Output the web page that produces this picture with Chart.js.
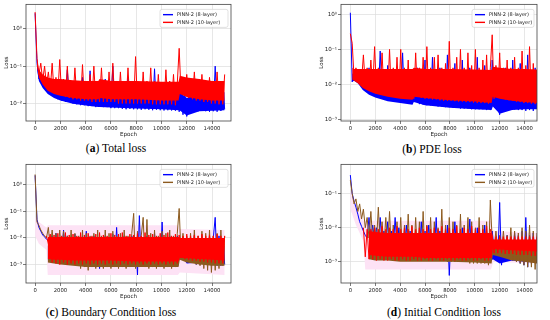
<!DOCTYPE html>
<html>
<head>
<meta charset="utf-8">
<script src="https://cdn.jsdelivr.net/npm/chart.js@4.4.0/dist/chart.umd.min.js"></script>
<style>
body { margin: 0; width: 550px; height: 320px; background: #fff; position: relative; overflow: hidden; }
canvas { position: absolute; }
.cap { position: absolute; font-family: "Liberation Serif"; font-size: 11.5px; color: #000; white-space: nowrap; transform: translate(-50%, -50%); }
</style>
</head>
<body>
<canvas id="chartA" width="240" height="142" style="left:0px;top:0px"></canvas>
<canvas id="chartB" width="230" height="142" style="left:315px;top:0px"></canvas>
<canvas id="chartC" width="240" height="142" style="left:0px;top:160px"></canvas>
<canvas id="chartD" width="230" height="142" style="left:315px;top:160px"></canvas>
<div class="cap" style="left:116px;top:148px">(<b>a</b>) Total loss</div>
<div class="cap" style="left:432px;top:149px">(<b>b</b>) PDE loss</div>
<div class="cap" style="left:111px;top:312px">(<b>c</b>) Boundary Condition loss</div>
<div class="cap" style="left:444px;top:312px">(<b>d</b>) Initial Condition loss</div>
<script>
Chart.defaults.font.family = "DejaVu Sans";
Chart.defaults.color = "#222";

var seriesNames = ["PINN-2 (8-layer)", "PINN-2 (10-layer)"];
var xTicks = [0, 2000, 4000, 6000, 8000, 10000, 12000, 14000];

var epochs = [0,150,300,450,600,750,900,1050,1200,1350,1500,1650,1800,1950,2100,2250,2400,2550,2700,2850,
  3000,3150,3300,3450,3600,3750,3900,4050,4200,4350,4500,4650,4800,4950,5100,5250,5400,5550,5700,5850,
  6000,6150,6300,6450,6600,6750,6900,7050,7200,7350,7500,7650,7800,7950,8100,8250,8400,8550,8700,8850,
  9000,9150,9300,9450,9600,9750,9900,10050,10200,10350,10500,10650,10800,10950,11100,11250,11400,11550,11700,11850,
  12000,12150,12300,12450,12600,12750,12900,13050,13200,13350,13500,13650,13800,13950,14100,14250,14400,14550,14700,14850,15000];

// epochs where the dense noise band edges were read
var bandEpochs = [150, 300, 600, 1000, 1500, 2000, 3000, 4000, 5000, 5100, 6000, 8000, 10000, 11350, 11450, 12000, 13000, 14000, 15000];

// (a) total loss
var totalLoss8 = [2.6,0.12,0.045,0.06,0.03,0.045,0.022,0.04,0.018,0.035,
  0.015,0.03,0.013,0.045,0.012,0.025,0.011,0.08,0.011,0.022,
  0.01,0.03,0.0095,0.02,0.009,0.05,0.009,0.022,0.0085,0.075,
  0.0085,0.02,0.008,0.028,0.0085,0.02,0.008,0.045,0.008,0.02,
  0.0075,0.1,0.0075,0.02,0.0075,0.03,0.0072,0.02,0.007,0.05,
  0.0072,0.02,0.007,0.025,0.007,0.018,0.0068,0.04,0.007,0.02,
  0.0068,0.03,0.0066,0.085,0.0068,0.02,0.0066,0.025,0.0065,0.02,
  0.0066,0.035,0.0065,0.02,0.0064,0.03,0.006,0.025,0.005,0.016,
  0.0045,0.014,0.0055,0.018,0.006,0.03,0.0062,0.02,0.0063,0.04,
  0.0062,0.02,0.006,0.025,0.0062,0.1,0.006,0.02,0.0063,0.03,0.007];
var totalLoss10 = [2.8,0.16,0.06,0.12,0.04,0.1,0.03,0.07,0.024,0.12,
  0.02,0.05,0.018,0.15,0.016,0.045,0.015,0.1,0.014,0.04,
  0.013,0.09,0.013,0.04,0.012,0.11,0.012,0.035,0.012,0.06,
  0.011,0.1,0.011,0.04,0.011,0.09,0.011,0.035,0.011,0.07,
  0.011,0.12,0.011,0.04,0.01,0.07,0.01,0.035,0.01,0.09,
  0.01,0.04,0.01,0.18,0.01,0.035,0.01,0.07,0.01,0.04,
  0.01,0.09,0.0095,0.04,0.0095,0.06,0.0095,0.035,0.0095,0.08,
  0.0095,0.04,0.0095,0.06,0.009,0.035,0.3,0.018,0.05,0.016,
  0.06,0.014,0.045,0.013,0.07,0.012,0.04,0.012,0.06,0.011,
  0.035,0.011,0.05,0.01,0.04,0.01,0.07,0.0095,0.035,0.0095,0.06];
var totalBand8Low = [0.09, 0.04, 0.026, 0.018, 0.014, 0.012, 0.0098, 0.0088, 0.008, 0.008, 0.0078, 0.0073, 0.007, 0.0066, 0.0065, 0.0048, 0.0062, 0.0064, 0.0066];
var totalBand8High = [0.12, 0.06, 0.04, 0.03, 0.025, 0.022, 0.02, 0.02, 0.02, 0.025, 0.02, 0.02, 0.02, 0.02, 0.02, 0.014, 0.02, 0.02, 0.02];
var totalBand10Low = [0.1, 0.05, 0.032, 0.022, 0.018, 0.016, 0.014, 0.013, 0.013, 0.014, 0.013, 0.013, 0.012, 0.012, 0.018, 0.015, 0.013, 0.012, 0.012];
var totalBand10High = [0.16, 0.08, 0.06, 0.05, 0.045, 0.045, 0.042, 0.04, 0.04, 0.045, 0.04, 0.04, 0.038, 0.038, 0.055, 0.05, 0.045, 0.04, 0.04];

// (b) PDE loss
var pdeLoss8 = [1.1,0.012,0.022,0.015,0.021,0.014,0.02,0.012,0.018,0.01,
  0.03,0.0075,0.016,0.0065,0.02,0.0055,0.09,0.005,0.018,0.0045,
  0.035,0.004,0.016,0.0038,0.025,0.0035,0.015,0.0034,0.08,0.0032,
  0.02,0.003,0.014,0.003,0.01,0.006,0.03,0.0028,0.02,0.0027,
  0.05,0.0026,0.016,0.0026,0.06,0.0025,0.018,0.0024,0.03,0.0024,
  0.015,0.0023,0.07,0.0023,0.02,0.0022,0.04,0.0022,0.016,0.0021,
  0.05,0.0021,0.018,0.0021,0.03,0.002,0.015,0.002,0.06,0.002,
  0.02,0.002,0.035,0.0019,0.015,0.0019,0.05,0.009,0.004,0.0025,
  0.0014,0.012,0.0018,0.03,0.0019,0.015,0.002,0.05,0.002,0.018,
  0.0019,0.04,0.0019,0.016,0.0018,0.07,0.0019,0.02,0.0018,0.03,0.0022];
var pdeLoss10 = [0.28,0.15,0.016,0.03,0.018,0.025,0.012,0.07,0.01,0.03,
  0.008,0.05,0.0075,0.12,0.0065,0.03,0.006,0.08,0.0055,0.025,
  0.005,0.1,0.005,0.03,0.0048,0.06,0.0045,0.1,0.0045,0.03,
  0.0042,0.05,0.004,0.025,0.004,0.08,0.0045,0.03,0.0042,0.06,
  0.004,0.12,0.004,0.03,0.0038,0.06,0.0038,0.07,0.0036,0.03,
  0.0035,0.04,0.0035,0.17,0.0035,0.03,0.0034,0.06,0.0033,0.1,
  0.0033,0.03,0.0032,0.08,0.0032,0.035,0.0031,0.1,0.003,0.03,
  0.003,0.05,0.003,0.07,0.0029,0.03,0.26,0.004,0.035,0.0042,
  0.08,0.004,0.03,0.0038,0.05,0.0036,0.03,0.0035,0.06,0.0033,
  0.03,0.0032,0.09,0.003,0.035,0.003,0.12,0.0029,0.04,0.0028,0.025];
var pdeBand8Low = [0.012, 0.013, 0.011, 0.007, 0.0052, 0.0043, 0.0034, 0.003, 0.0027, 0.0032, 0.0026, 0.0022, 0.002, 0.0019, 0.0024, 0.0015, 0.0019, 0.002, 0.002];
var pdeBand8High = [0.02, 0.022, 0.02, 0.016, 0.014, 0.012, 0.012, 0.012, 0.012, 0.018, 0.012, 0.012, 0.012, 0.011, 0.014, 0.008, 0.012, 0.012, 0.012];
var pdeBand10Low = [0.014, 0.013, 0.011, 0.008, 0.0065, 0.0055, 0.0045, 0.004, 0.0037, 0.0045, 0.0042, 0.0036, 0.0033, 0.003, 0.0045, 0.004, 0.0035, 0.0032, 0.003];
var pdeBand10High = [0.03, 0.028, 0.028, 0.028, 0.028, 0.028, 0.028, 0.028, 0.028, 0.03, 0.028, 0.028, 0.027, 0.026, 0.032, 0.03, 0.028, 0.028, 0.027];

// (c) boundary condition loss
var bcLoss8 = [2.3,0.05,0.025,0.018,0.013,0.011,0.009,0.008,0.004,0.012,
  0.003,0.015,0.0025,0.01,0.0022,0.02,0.002,0.012,0.0018,0.01,
  0.0017,0.014,0.0015,0.01,0.0015,0.012,0.0014,0.018,0.0013,0.01,
  0.0013,0.012,0.0012,0.01,0.0007,0.006,0.0012,0.012,0.0012,0.01,
  0.0011,0.014,0.0011,0.025,0.0011,0.01,0.001,0.012,0.001,0.01,
  0.001,0.012,0.0009,0.01,0.0004,0.07,0.0009,0.01,0.0009,0.012,
  0.0009,0.01,0.0009,0.015,0.0009,0.01,0.0009,0.04,0.0009,0.01,
  0.0009,0.012,0.0009,0.01,0.0009,0.012,0.008,0.0035,0.006,0.002,
  0.004,0.0015,0.003,0.0012,0.012,0.001,0.01,0.001,0.012,0.001,
  0.01,0.001,0.012,0.0009,0.01,0.06,0.0009,0.012,0.0009,0.01,0.001];
var bcLoss10 = [2.5,0.04,0.03,0.02,0.015,0.012,0.01,0.025,0.004,0.02,
  0.003,0.015,0.0025,0.02,0.0022,0.018,0.002,0.012,0.0018,0.02,
  0.0016,0.015,0.0015,0.012,0.0007,0.02,0.0008,0.015,0.0006,0.012,
  0.0008,0.015,0.0007,0.02,0.0008,0.012,0.0007,0.02,0.0008,0.015,
  0.0007,0.018,0.0008,0.012,0.0007,0.015,0.0008,0.02,0.0007,0.012,
  0.0008,0.015,0.085,0.0007,0.018,0.0008,0.012,0.06,0.0008,0.05,
  0.0007,0.015,0.0008,0.02,0.0007,0.012,0.0008,0.018,0.0007,0.015,
  0.0008,0.02,0.0007,0.012,0.0008,0.015,0.13,0.002,0.015,0.002,
  0.012,0.0015,0.015,0.0012,0.02,0.001,0.012,0.0009,0.018,0.0007,
  0.015,0.0006,0.02,0.0005,0.012,0.0006,0.015,0.0007,0.02,0.0009,0.012];
var bcRed = [null,null,null,null,null,null,0.012,0.006,0.014,0.0012,
  0.013,0.0011,0.015,0.001,0.012,0.0012,0.016,0.001,0.013,0.0011,
  0.014,0.001,0.012,0.0011,0.016,0.001,0.013,0.0011,0.015,0.001,
  0.012,0.0011,0.014,0.001,0.016,0.0011,0.013,0.001,0.012,0.0011,
  0.015,0.001,0.013,0.0011,0.014,0.001,0.016,0.0011,0.012,0.001,
  0.014,0.0011,0.013,0.001,0.015,0.0011,0.012,0.001,0.016,0.0011,
  0.013,0.001,0.014,0.0011,0.012,0.001,0.015,0.0011,0.013,0.001,
  0.016,0.0011,0.012,0.001,0.014,0.0011,0.013,0.0018,0.012,0.0016,
  0.014,0.0015,0.012,0.0014,0.013,0.0014,0.012,0.0013,0.014,0.0013,
  0.012,0.0012,0.013,0.0012,0.012,0.0011,0.014,0.0011,0.012,0.0011,0.012];
var bcRedLow = [null, null, null, 0.0016, 0.0015, 0.0015, 0.0014, 0.0014, 0.0014, 0.0014, 0.0014, 0.0013, 0.0013, 0.0013, 0.0018, 0.0017, 0.0016, 0.0015, 0.0014];
var bcRedHigh = [null, null, null, 0.011, 0.011, 0.011, 0.011, 0.011, 0.011, 0.011, 0.011, 0.011, 0.011, 0.011, 0.01, 0.01, 0.01, 0.01, 0.01];
var bcBand10Low = [null, null, null, 0.0012, 0.0011, 0.001, 0.0009, 0.0008, 0.0008, 0.0008, 0.0008, 0.0008, 0.0008, 0.0008, 0.0015, 0.0012, 0.001, 0.0009, 0.0009];
var bcBand10High = [null, null, null, 0.006, 0.006, 0.006, 0.006, 0.006, 0.006, 0.006, 0.006, 0.006, 0.006, 0.006, 0.006, 0.006, 0.006, 0.006, 0.006];
var bcBand8Low = [null, null, null, 0.0015, 0.0013, 0.0012, 0.0011, 0.001, 0.001, 0.0009, 0.0009, 0.0009, 0.0009, 0.0009, 0.0025, 0.0011, 0.0012, 0.0012, 0.0012];
var bcBand8High = [null, null, null, 0.005, 0.005, 0.005, 0.005, 0.005, 0.005, 0.005, 0.005, 0.005, 0.005, 0.005, 0.006, 0.004, 0.005, 0.005, 0.005];
var bcShadeEpochs = [0, 300, 900, 1000, 11300, 11450, 15000];
var bcShadeHigh = [0.06, 0.04, 0.025, 0.03, 0.03, 0.022, 0.02];
var bcShadeLow = [0.012, 0.006, 0.0035, 0.0004, 0.0004, 0.0005, 0.0004];

// (d) initial condition loss
var icLoss8 = [0.35,0.1,0.06,0.04,0.025,0.015,0.011,0.008,0.006,0.005,
  0.02,0.0045,0.012,0.004,0.01,0.0035,0.02,0.003,0.008,0.0028,
  0.015,0.0026,0.008,0.0025,0.02,0.0024,0.01,0.0023,0.007,0.0022,
  0.012,0.0022,0.008,0.0021,0.006,0.0012,0.007,0.0021,0.015,0.002,
  0.008,0.002,0.012,0.0019,0.007,0.0019,0.02,0.0012,0.008,0.0018,
  0.006,0.0018,0.012,0.0004,0.007,0.0017,0.015,0.0017,0.006,0.0016,
  0.01,0.0016,0.007,0.0015,0.018,0.0015,0.006,0.0014,0.01,0.0014,
  0.007,0.0014,0.012,0.0013,0.006,0.0012,0.008,0.0025,0.0015,0.001,
  0.055,0.0008,0.004,0.0012,0.006,0.0012,0.005,0.0011,0.007,0.001,
  0.006,0.0009,0.008,0.0008,0.02,0.0007,0.006,0.0009,0.007,0.001,0.005];
var icLoss10 = [0.25,0.1,0.05,0.07,0.03,0.05,0.018,0.035,0.01,0.02,
  0.005,0.03,0.004,0.012,0.0035,0.04,0.003,0.015,0.0028,0.02,
  0.0025,0.03,0.002,0.012,0.0018,0.015,0.0016,0.02,0.0015,0.012,
  0.0015,0.025,0.0014,0.012,0.0014,0.02,0.0013,0.015,0.0013,0.03,
  0.0012,0.012,0.0012,0.02,0.0012,0.015,0.0011,0.01,0.0011,0.035,
  0.0011,0.012,0.001,0.02,0.001,0.015,0.001,0.012,0.001,0.025,
  0.001,0.012,0.001,0.02,0.0009,0.015,0.0009,0.01,0.0009,0.02,
  0.0009,0.012,0.0009,0.015,0.0008,0.065,0.004,0.0025,0.008,0.0022,
  0.006,0.002,0.008,0.0018,0.006,0.0015,0.01,0.0012,0.008,0.001,
  0.007,0.0009,0.01,0.0008,0.008,0.0007,0.012,0.0007,0.008,0.0006,0.007];
var icRed = [null,null,null,null,null,null,null,0.01,0.0014,0.009,
  0.0012,0.009,0.0012,0.01,0.0011,0.009,0.0012,0.011,0.0011,0.009,
  0.0011,0.01,0.0012,0.009,0.0011,0.011,0.0011,0.009,0.0012,0.01,
  0.0011,0.009,0.0011,0.011,0.0012,0.009,0.0011,0.01,0.0011,0.009,
  0.0012,0.011,0.0011,0.009,0.0011,0.01,0.0012,0.009,0.0011,0.011,
  0.0011,0.009,0.0012,0.01,0.0011,0.009,0.0011,0.011,0.0012,0.009,
  0.0011,0.01,0.0011,0.009,0.0012,0.011,0.0011,0.009,0.0011,0.01,
  0.0012,0.009,0.0011,0.011,0.0011,0.009,0.006,0.0018,0.0055,0.0018,
  0.0055,0.0018,0.0055,0.0017,0.0055,0.0017,0.0055,0.0017,0.0055,0.0016,
  0.0055,0.0016,0.0055,0.0016,0.0055,0.0016,0.0055,0.0015,0.0055,0.0015,0.0055];
var icRedLow = [null, null, null, null, 0.0016, 0.0015, 0.0014, 0.0014, 0.0014, 0.0014, 0.0013, 0.0013, 0.0013, 0.0013, 0.0024, 0.0023, 0.0022, 0.0021, 0.002];
var icRedHigh = [null, null, null, null, 0.008, 0.0075, 0.007, 0.007, 0.007, 0.007, 0.007, 0.007, 0.007, 0.007, 0.0045, 0.0045, 0.0045, 0.0045, 0.0045];
var icBand10Low = [null, null, null, null, 0.0012, 0.0011, 0.0011, 0.001, 0.001, 0.001, 0.001, 0.001, 0.00095, 0.0009, 0.0016, 0.0014, 0.0011, 0.001, 0.0009];
var icBand10High = [null, null, null, null, 0.005, 0.005, 0.005, 0.005, 0.005, 0.005, 0.005, 0.005, 0.005, 0.005, 0.004, 0.004, 0.004, 0.004, 0.004];
var icBand8Low = [null, null, null, null, 0.0014, 0.0013, 0.0013, 0.0012, 0.0012, 0.0012, 0.0012, 0.0012, 0.0012, 0.0011, 0.0012, 0.0009, 0.0011, 0.001, 0.001];
var icBand8High = [null, null, null, null, 0.004, 0.004, 0.004, 0.004, 0.004, 0.004, 0.004, 0.004, 0.004, 0.004, 0.004, 0.003, 0.004, 0.004, 0.004];
var icShadeEpochs = [0, 150, 450, 750, 1050, 1200, 11300, 11500, 15000];
var icShadeHigh = [0.12, 0.1, 0.05, 0.03, 0.016, 0.016, 0.016, 0.008, 0.007];
var icShadeLow = [0.035, 0.025, 0.012, 0.007, 0.004, 0.0006, 0.0006, 0.001, 0.0009];

function pts(xs, ys) {
  return xs.map(function (x, i) { return { x: x, y: ys[i] }; });
}

var sup = { "-": "\u207B", "0": "\u2070", "1": "\u00B9", "2": "\u00B2", "3": "\u00B3" };
function powLabel(v) {
  var e = String(Math.round(Math.log10(v)));
  return "10" + e.split("").map(function (c) { return sup[c]; }).join("");
}

// axes frame + legend box drawn inside the plot area
var frameLegend = {
  id: "frameLegend",
  afterDraw: function (chart, args, opts) {
    var ctx = chart.ctx, a = chart.chartArea;
    ctx.save();
    ctx.strokeStyle = "#444";
    ctx.lineWidth = 0.8;
    ctx.strokeRect(a.left, a.top, a.right - a.left, a.bottom - a.top);
    var w = opts.width, h = 18, x = a.right - w - 3, y = a.top + 5;
    ctx.fillStyle = "rgba(255,255,255,0.85)";
    ctx.strokeStyle = "#ccc";
    ctx.lineWidth = 0.6;
    ctx.beginPath();
    ctx.roundRect(x, y, w, h, 2);
    ctx.fill();
    ctx.stroke();
    ctx.font = "5px 'DejaVu Sans'";
    ctx.textBaseline = "middle";
    opts.colors.forEach(function (c, k) {
      var yy = y + 5.3 + k * 7.7;
      ctx.strokeStyle = c;
      ctx.lineWidth = 1.4;
      ctx.beginPath();
      ctx.moveTo(x + 3, yy);
      ctx.lineTo(x + 13, yy);
      ctx.stroke();
      ctx.fillStyle = "#222";
      ctx.fillText(seriesNames[k], x + 17, yy);
    });
    ctx.restore();
  }
};

function line(data, color, order) {
  return {
    data: data, borderColor: color, borderWidth: 1, pointRadius: 0,
    borderJoinStyle: "round", tension: 0, order: order, spanGaps: false
  };
}

// two datasets: lower edge, then upper edge filled down to it
function band(low, high, color, order) {
  return [
    { data: low, borderWidth: 0, pointRadius: 0, fill: false, order: order, spanGaps: false },
    { data: high, borderWidth: 0, pointRadius: 0, fill: "-1", backgroundColor: color, order: order, spanGaps: false }
  ];
}

function makePanel(id, datasets, yMin, yMax, yTicks, xMin, xMax, padRight, xHeight, titlePad, legendColors, legendWidth) {
  return new Chart(document.getElementById(id), {
    type: "line",
    data: { datasets: datasets },
    plugins: [frameLegend],
    options: {
      responsive: false,
      animation: false,
      events: [],
      layout: { padding: { top: 2, right: padRight, left: 0, bottom: 0 } },
      plugins: {
        legend: { display: false },
        tooltip: { enabled: false },
        frameLegend: { colors: legendColors, width: legendWidth }
      },
      scales: {
        x: {
          type: "linear", min: xMin, max: xMax,
          afterBuildTicks: function (s) { s.ticks = xTicks.map(function (v) { return { value: v }; }); },
          afterFit: function (s) { s.height = xHeight; },
          grid: { color: "#dcdcdc", lineWidth: 0.7, tickLength: 3, tickColor: "#444" },
          border: { display: false },
          ticks: { font: { size: 5.3 }, padding: 1, maxRotation: 0, autoSkip: false, callback: function (v) { return String(v); } },
          title: { display: true, text: "Epoch", font: { size: 5.6 }, padding: { top: 0, bottom: titlePad } }
        },
        y: {
          type: "logarithmic", min: yMin, max: yMax,
          afterBuildTicks: function (s) { s.ticks = yTicks.map(function (v) { return { value: v }; }); },
          afterFit: function (s) { s.width = 26; },
          grid: { color: "#dcdcdc", lineWidth: 0.7, tickLength: 3, tickColor: "#444" },
          border: { display: false },
          ticks: { font: { size: 5.6 }, padding: 1, callback: powLabel },
          title: { display: true, text: "Loss", font: { size: 5.6 }, padding: { top: 3, bottom: 0 } }
        }
      }
    }
  });
}

var blue = "#0000ff", red = "#ff0000", brown = "#8c5a1e", shade = "#fde2f5";

makePanel("chartA", [
  line(pts(epochs, totalLoss10), red, 0)
].concat(band(pts(bandEpochs, totalBand10Low), pts(bandEpochs, totalBand10High), red, 1), [
  line(pts(epochs, totalLoss8), blue, 2)
], band(pts(bandEpochs, totalBand8Low), pts(bandEpochs, totalBand8High), blue, 3)),
  0.0034, 4.5, [0.01, 0.1, 1], -720, 15500, 9, 21, 4, [blue, red], 68);

makePanel("chartB", [
  line(pts(epochs, pdeLoss10), red, 0)
].concat(band(pts(bandEpochs, pdeBand10Low), pts(bandEpochs, pdeBand10High), red, 1), [
  line(pts(epochs, pdeLoss8), blue, 2)
], band(pts(bandEpochs, pdeBand8Low), pts(bandEpochs, pdeBand8High), blue, 3)),
  0.00093, 1.9, [0.001, 0.01, 0.1, 1], -750, 15000, 8, 21, 4, [blue, red], 62);

makePanel("chartC", [
  line(pts(epochs, bcRed), red, 0)
].concat(band(pts(bandEpochs, bcRedLow), pts(bandEpochs, bcRedHigh), red, 1), [
  line(pts(epochs, bcLoss10), brown, 2)
], band(pts(bandEpochs, bcBand10Low), pts(bandEpochs, bcBand10High), brown, 3), [
  line(pts(epochs, bcLoss8), blue, 4)
], band(pts(bandEpochs, bcBand8Low), pts(bandEpochs, bcBand8High), blue, 5),
  band(pts(bcShadeEpochs, bcShadeLow), pts(bcShadeEpochs, bcShadeHigh), shade, 6)),
  0.0002, 6, [0.001, 0.01, 0.1, 1], -720, 15500, 9, 19, 2, [blue, brown], 68);

makePanel("chartD", [
  line(pts(epochs, icRed), red, 0)
].concat(band(pts(bandEpochs, icRedLow), pts(bandEpochs, icRedHigh), red, 1), [
  line(pts(epochs, icLoss10), brown, 2)
], band(pts(bandEpochs, icBand10Low), pts(bandEpochs, icBand10High), brown, 3), [
  line(pts(epochs, icLoss8), blue, 4)
], band(pts(bandEpochs, icBand8Low), pts(bandEpochs, icBand8High), blue, 5),
  band(pts(icShadeEpochs, icShadeLow), pts(icShadeEpochs, icShadeHigh), shade, 6)),
  0.00024, 0.72, [0.001, 0.01, 0.1], -750, 15000, 8, 19, 2, [blue, brown], 62);
</script>
</body>
</html>
